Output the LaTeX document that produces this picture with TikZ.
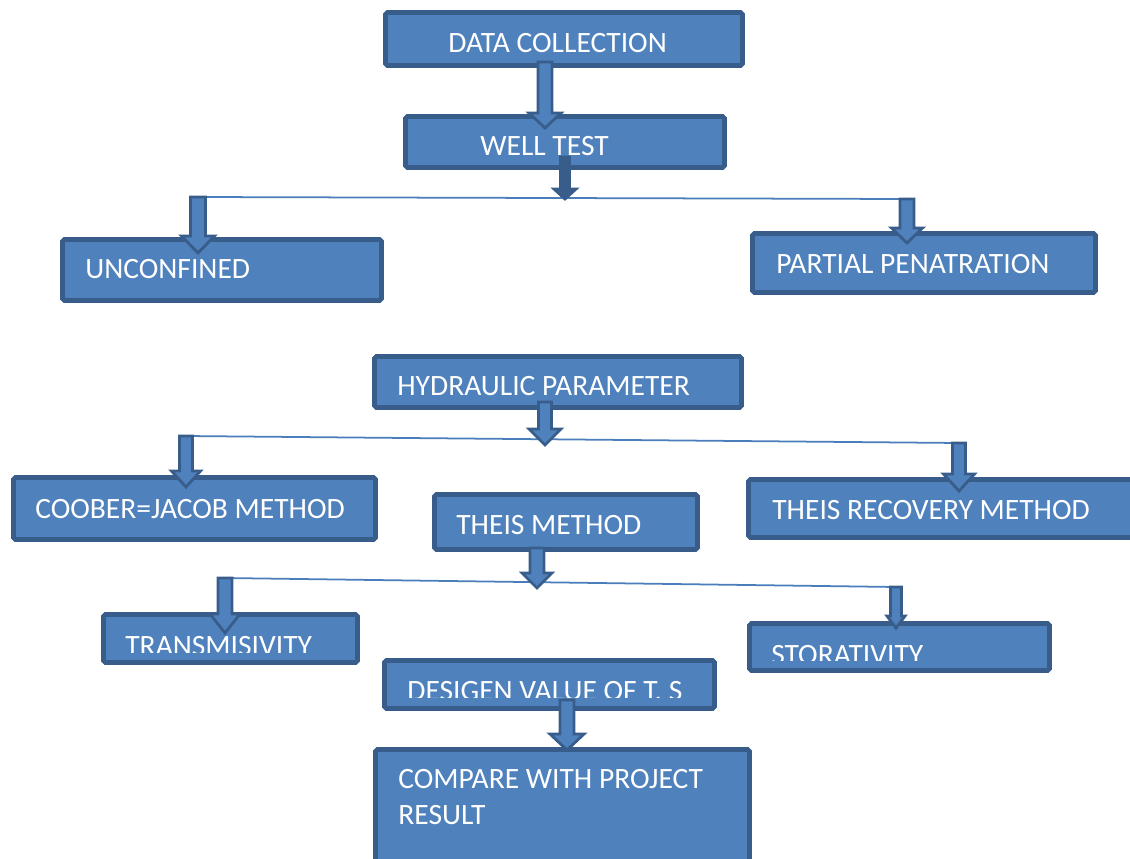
\documentclass[tikz,border=0pt]{standalone}
\usepackage{fontspec}
\setmainfont{Carlito}
\usetikzlibrary{positioning,fit,calc}
\definecolor{bfill}{RGB}{79,129,189}
\definecolor{bdark}{RGB}{56,93,138}
\definecolor{bline}{RGB}{74,126,187}

\begin{document}
\begin{tikzpicture}[x=0.02cm,y=-0.02cm,
    box/.style={draw=bdark, fill=bfill, line width=2.6pt, rounded corners=1pt, inner sep=0pt},
    txt/.style={text=white, font=\fontsize{16.8}{20.4}\selectfont, inner sep=0pt, anchor=base west, align=left},
    branch/.style={draw=bline, line width=1pt},
    barrow/.style n args={3}{draw=bdark, fill=bfill, line width=1.6pt,
      to path={($(\tikztostart)+(-#1,0)$) -- ($(\tikztostart)+(#1,0)$) -- ($(\tikztotarget)+(#1,-#3)$)
        -- ($(\tikztotarget)+(#2,-#3)$) -- (\tikztotarget) -- ($(\tikztotarget)+(-#2,-#3)$)
        -- ($(\tikztotarget)+(-#1,-#3)$) -- cycle}},
    barrowdark/.style n args={3}{barrow={#1}{#2}{#3}, fill=bdark}]
      \useasboundingbox (0,0) rectangle (1130,859);
      \node[box, fit={(385.5,12.5) (742.5,65.5)}] (data) {};
      \node[txt] (dataT) at (448,52) {DATA COLLECTION};
      \node[box, fit={(405.5,116.5) (724.5,167.5)}] (well) {};
      \node[txt] (wellT) at (480,155) {WELL TEST};
      \node[box, fit={(62.5,239.5) (381.5,300.5)}] (unconf) {};
      \node[txt] (unconfT) at (85,278) {UNCONFINED};
      \node[box, fit={(752.5,233.5) (1095.5,292.5)}] (partial) {};
      \node[txt] (partialT) at (776,273) {PARTIAL PENATRATION};
      \node[box, fit={(374.5,356.5) (741.5,407.5)}] (hydro) {};
      \node[txt] (hydroT) at (397,395) {HYDRAULIC PARAMETER};
      \node[box, fit={(13.5,477.5) (375.5,539.5)}] (coober) {};
      \node[txt] (cooberT) at (35,518) {COOBER=JACOB METHOD};
      \node[box, fit={(434.5,494.5) (697.5,549.5)}] (theis) {};
      \node[txt] (theisT) at (456,534) {THEIS METHOD};
      \node[box, fit={(748.5,479.5) (1140,537.5)}] (theisrec) {};
      \node[txt] (theisrecT) at (772,519) {THEIS RECOVERY METHOD};
      \node[box, fit={(103.5,614.5) (357.5,662.5)}] (trans) {};
      \begin{scope}
        \clip (trans.north west) rectangle ($(trans.south east)+(0,-12.5)$);
        \node[txt] (transT) at (125,655) {TRANSMISIVITY};
      \end{scope}
      \node[box, fit={(749.5,623.5) (1049.5,670.5)}] (stor) {};
      \begin{scope}
        \clip (stor.north west) rectangle ($(stor.south east)+(0,-12.5)$);
        \node[txt] (storT) at (771,664) {STORATIVITY};
      \end{scope}
      \node[box, fit={(384.5,660.5) (714.5,708.5)}] (design) {};
      \begin{scope}
        \clip (design.north west) rectangle ($(design.south east)+(0,-13)$);
        \node[txt] (designT) at (407,700) {DESIGEN VALUE OF T, S};
      \end{scope}
      \node[box, fit={(375.5,749.5) (749.5,880)}] (compare) {};
      \node[txt] (compareT) at (398,824) {COMPARE WITH PROJECT\\RESULT};
      \coordinate (dw1) at (545,62);   \coordinate (dw2) at (545,128);
      \coordinate (wl1) at (565,157);  \coordinate (wl2) at (565,199);
      \coordinate (uc1) at (198,197);  \coordinate (uc2) at (198,253);
      \coordinate (pp1) at (907,199);  \coordinate (pp2) at (907,243);
      \coordinate (hp1) at (545,402);  \coordinate (hp2) at (545,445);
      \coordinate (cj1) at (186,436);  \coordinate (cj2) at (186,487);
      \coordinate (tr1) at (959,443);  \coordinate (tr2) at (959,491);
      \coordinate (tm1) at (537,548);  \coordinate (tm2) at (537,588);
      \coordinate (ts1) at (225,578);  \coordinate (ts2) at (225,633);
      \coordinate (st1) at (896,587);  \coordinate (st2) at (896,628);
      \coordinate (dc1) at (567,700);  \coordinate (dc2) at (567,750);
      \draw[branch] (uc1) -- (pp1);
      \draw[branch] (cj1) -- (tr1);
      \draw[branch] (ts1) -- (st1);
      \draw[barrow={7}{16}{15}] (dw1) to (dw2);
      \draw[barrowdark={4.5}{11}{10}] (wl1) to (wl2);
      \draw[barrow={7.5}{16.5}{17}] (uc1) to (uc2);
      \draw[barrow={7}{15.5}{15}] (pp1) to (pp2);
      \draw[barrow={6.5}{16}{16}] (hp1) to (hp2);
      \draw[barrow={6.5}{14.5}{16}] (cj1) to (cj2);
      \draw[barrow={6.5}{15.5}{17}] (tr1) to (tr2);
      \draw[barrow={7}{15}{15}] (tm1) to (tm2);
      \draw[barrow={7}{15}{19}] (ts1) to (ts2);
      \draw[barrow={5.5}{9}{12}] (st1) to (st2);
      \draw[barrow={7}{17}{16}] (dc1) to (dc2);
\end{tikzpicture}
\end{document}
